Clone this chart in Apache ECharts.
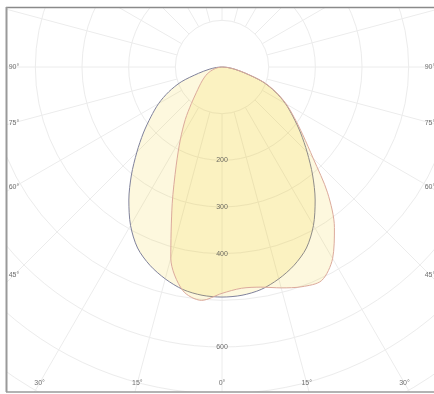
<!DOCTYPE html>
<html><head><meta charset="utf-8">
<script src="https://cdn.jsdelivr.net/npm/echarts@6/dist/echarts.min.js"></script>
<style>html,body{margin:0;padding:0;background:#fff}#c{width:434px;height:394px}</style>
</head><body><div id="c"></div>
<script>
// gamma angles (deg), 0 = straight down, negative = left
const angles = [-90,-85,-80,-75,-70,-65,-60,-55,-50,-45,-40,-35,-30,-25,-20,-15,-10,-5,0,5,10,15,20,25,30,35,40,45,50,55,60,65,70,75,80,85,90];
// plane A (symmetric, grey-blue outline), cd
const planeA = [0,12,28,52,93,126,157,186,220,258,302,348,392,428,452,470,484,491,493,491,484,470,452,428,392,348,302,258,220,186,157,126,93,52,28,12,0];
// plane B (asymmetric, red outline), cd
const planeB = [0,4,10,18,26,35,43,52,63,78,102,137,178,232,312,424,486,502,485,476,479,490,501,505,474,420,352,276,226,189,159,128,95,54,29,12,0];
const ringLabels = [200,300,400,600];
const sideAngleLabels = [90,75,60,45];
const bottomAngleLabels = [30,15,0];

const CX = 222, CY = 67, MAXV = 900, R = 420;
const k = R / MAXV;
const sideDist = 208, bottomDist = 316;

const angleLabelData = [];
sideAngleLabels.forEach(a => {
  const r = sideDist / k / Math.sin(a * Math.PI / 180);
  angleLabelData.push({value: [r, -a], name: a + '°'});
  angleLabelData.push({value: [r, a], name: a + '°'});
});
bottomAngleLabels.forEach(a => {
  const r = bottomDist / k / Math.cos(a * Math.PI / 180);
  angleLabelData.push({value: [r, -a], name: a + '°'});
  if (a !== 0) angleLabelData.push({value: [r, a], name: a + '°'});
});

const chart = echarts.init(document.getElementById('c'), null, {renderer: 'canvas'});
const gridColor = '#ececec';
chart.setOption({
  animation: false,
  backgroundColor: '#fff',
  polar: [
    {center: [CX, CY], radius: [100 * k, R]},
    {center: [CX, CY], radius: R}
  ],
  radiusAxis: [
    {polarIndex: 0, type: 'value', min: 100, max: MAXV, interval: 100,
     axisLine: {show: false}, axisTick: {show: false}, axisLabel: {show: false},
     splitLine: {show: true, lineStyle: {color: gridColor, width: 1}}},
    {polarIndex: 1, type: 'value', min: 0, max: MAXV, show: false}
  ],
  angleAxis: [
    {polarIndex: 0, type: 'value', min: 0, max: 360, interval: 15, startAngle: 270,
     axisLine: {show: false}, axisTick: {show: false}, axisLabel: {show: false},
     splitLine: {show: true, lineStyle: {color: gridColor, width: 1}}},
    {polarIndex: 1, type: 'value', min: -180, max: 180, startAngle: 90, clockwise: false, show: false}
  ],
  series: [
    {type: 'line', coordinateSystem: 'polar', polarIndex: 1, smooth: 0.3, symbol: 'none',
     data: angles.map((a, i) => [planeA[i], a]),
     lineStyle: {color: '#80829c', width: 1},
     areaStyle: {color: 'rgba(242,208,20,0.2)', origin: 'start'}, z: 3},
    {type: 'line', coordinateSystem: 'polar', polarIndex: 1, smooth: 0.3, symbol: 'none',
     data: angles.map((a, i) => [planeB[i], a]),
     lineStyle: {color: '#dcaa9c', width: 1},
     areaStyle: {color: 'rgba(242,208,20,0.2)', origin: 'start'}, z: 4},
    {type: 'scatter', coordinateSystem: 'polar', polarIndex: 1, symbolSize: 1,
     itemStyle: {color: 'rgba(0,0,0,0)'}, z: 6, silent: true,
     data: ringLabels.map(v => [v, 0]),
     label: {show: true, position: 'inside', formatter: p => String(p.value[0]),
       fontSize: 7, fontFamily: 'Liberation Sans', color: '#4a4a4a'}},
    {type: 'scatter', coordinateSystem: 'polar', polarIndex: 1, symbolSize: 1,
     itemStyle: {color: 'rgba(0,0,0,0)'}, z: 6, silent: true,
     data: angleLabelData,
     label: {show: true, position: 'inside', formatter: p => p.name,
       fontSize: 7, fontFamily: 'Liberation Sans', color: '#4a4a4a'}}
  ],
  graphic: {elements: [
    {type: 'rect', shape: {x: 0, y: 0, width: 6, height: 394}, style: {fill: '#fff'}, z: 100},
    {type: 'rect', shape: {x: 0, y: 0, width: 434, height: 7}, style: {fill: '#fff'}, z: 100},
    {type: 'rect', shape: {x: 0, y: 392, width: 434, height: 2}, style: {fill: '#fff'}, z: 100},
    {type: 'line', shape: {x1: 6, y1: 7.5, x2: 434, y2: 7.5}, style: {stroke: '#8a8a8a', lineWidth: 1.5}, z: 101},
    {type: 'line', shape: {x1: 6.5, y1: 7, x2: 6.5, y2: 392}, style: {stroke: '#9a9a9a', lineWidth: 2}, z: 101},
    {type: 'line', shape: {x1: 6, y1: 392, x2: 434, y2: 392}, style: {stroke: '#9a9a9a', lineWidth: 1.5}, z: 101}
  ]}
});
</script></body></html>
